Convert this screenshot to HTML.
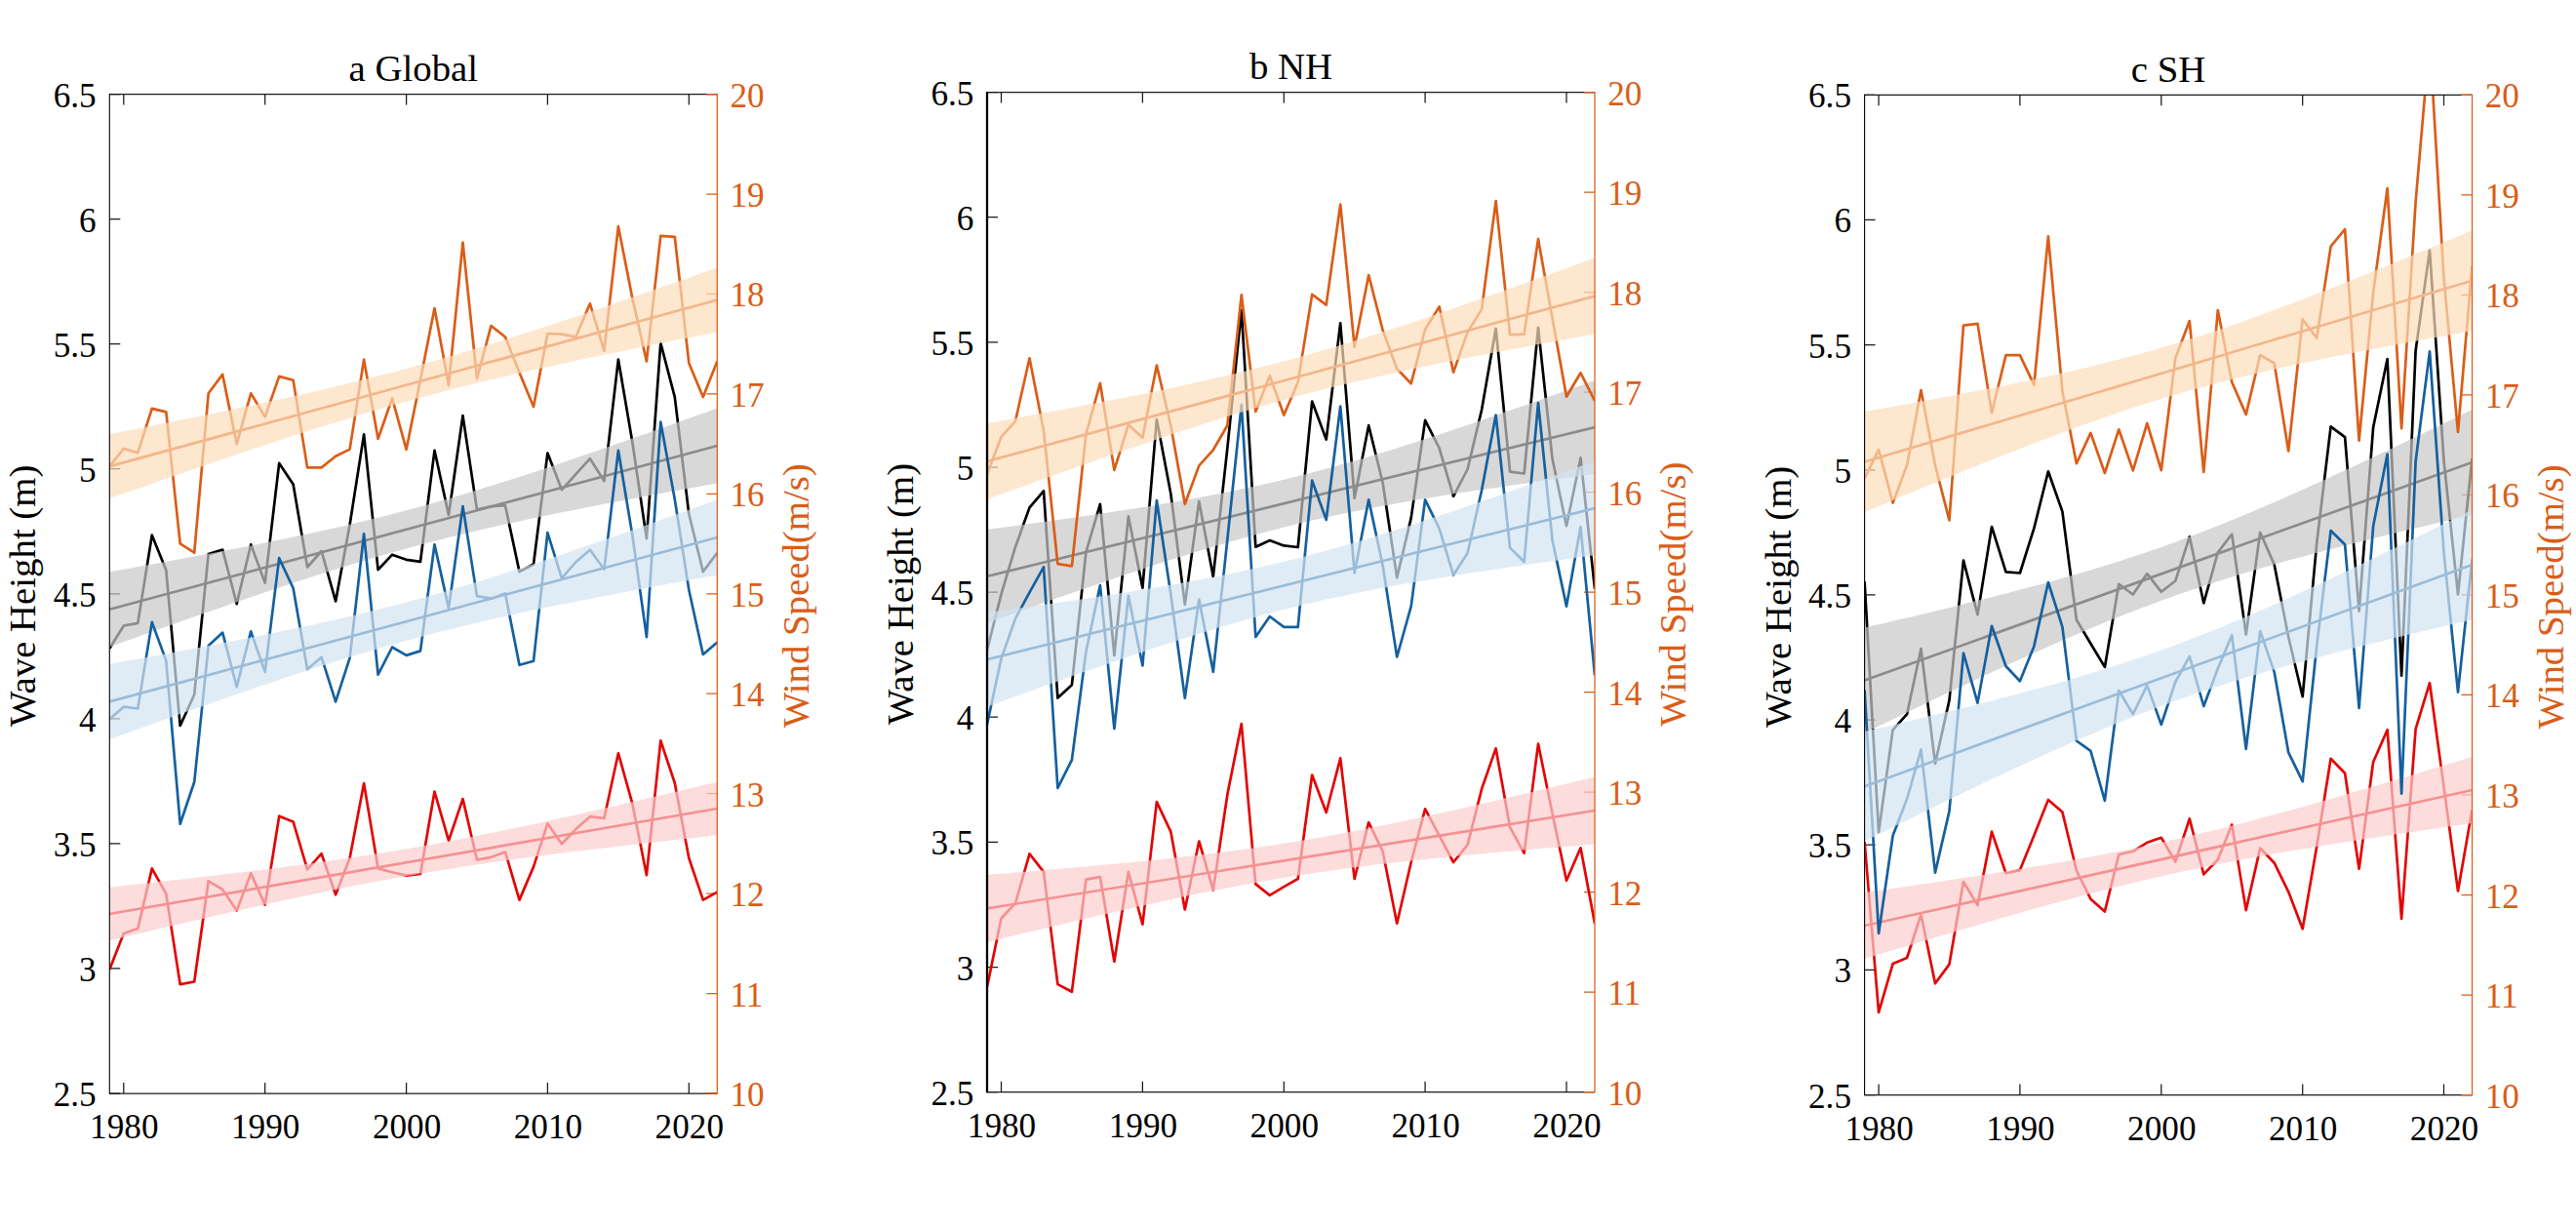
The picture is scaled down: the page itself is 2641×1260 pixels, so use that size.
<!DOCTYPE html>
<html><head><meta charset="utf-8"><title>Wave Height and Wind Speed trends</title>
<style>html,body{margin:0;padding:0;background:#fff}svg{display:block}text{font-family:"Liberation Serif","Times New Roman",serif}</style></head>
<body>
<svg width="2641" height="1260" viewBox="0 0 2641 1260">
<rect width="2641" height="1260" fill="#fff"/>
<g id="panel0">
<clipPath id="clip0"><rect x="112.3" y="96.5" width="623.0" height="1024.5"/></clipPath>
<path d="M126.8 1121.0V1110.0M126.8 96.5V107.5M271.7 1121.0V1110.0M271.7 96.5V107.5M416.6 1121.0V1110.0M416.6 96.5V107.5M561.4 1121.0V1110.0M561.4 96.5V107.5M706.3 1121.0V1110.0M706.3 96.5V107.5M112.3 1121.0H123.3M112.3 992.9H123.3M112.3 864.9H123.3M112.3 736.8H123.3M112.3 608.8H123.3M112.3 480.7H123.3M112.3 352.6H123.3M112.3 224.6H123.3M112.3 96.5H123.3" stroke="#1a1a1a" stroke-width="1.25" fill="none"/>
<path d="M735.3 1121.0H724.3M735.3 1018.5H724.3M735.3 916.1H724.3M735.3 813.6H724.3M735.3 711.2H724.3M735.3 608.8H724.3M735.3 506.3H724.3M735.3 403.9H724.3M735.3 301.4H724.3M735.3 199.0H724.3M735.3 96.5H724.3" stroke="#DA5D17" stroke-width="1.25" fill="none"/>
<g clip-path="url(#clip0)" fill="none" stroke-linejoin="round" stroke-linecap="butt">
<polyline points="112.3,664.7 126.8,641.5 141.3,638.8 155.8,548.7 170.3,584.5 184.7,744.0 199.2,712.2 213.7,568.1 228.2,563.6 242.7,619.1 257.2,558.2 271.7,597.6 286.2,474.9 300.6,496.4 315.1,581.5 329.6,565.0 344.1,616.4 358.6,538.0 373.1,445.4 387.6,584.2 402.1,568.7 416.6,573.8 431.0,575.8 445.5,461.8 460.0,528.0 474.5,426.2 489.0,522.6 503.5,519.1 518.0,518.2 532.5,586.1 547.0,578.5 561.4,464.5 575.9,502.1 590.4,486.1 604.9,470.2 619.4,493.1 633.9,368.6 648.4,453.7 662.9,552.2 677.3,351.6 691.8,407.2 706.3,527.0 720.8,586.1 735.3,566.8" stroke="#000000" stroke-width="2.7"/>
<line x1="112.3" y1="624.8" x2="735.3" y2="457.0" stroke="#000000" stroke-width="2.7"/>
<polygon points="112.3,586.3 119.5,585.0 126.8,583.7 134.0,582.4 141.3,581.1 148.5,579.8 155.8,578.5 163.0,577.2 170.3,575.9 177.5,574.5 184.7,573.2 192.0,571.8 199.2,570.5 206.5,569.1 213.7,567.8 221.0,566.4 228.2,565.0 235.5,563.6 242.7,562.2 249.9,560.8 257.2,559.4 264.4,557.9 271.7,556.5 278.9,555.0 286.2,553.5 293.4,552.0 300.6,550.5 307.9,549.0 315.1,547.4 322.4,545.9 329.6,544.3 336.9,542.7 344.1,541.0 351.4,539.4 358.6,537.7 365.8,536.0 373.1,534.3 380.3,532.5 387.6,530.7 394.8,528.9 402.1,527.0 409.3,525.2 416.6,523.3 423.8,521.3 431.0,519.4 438.3,517.4 445.5,515.3 452.8,513.3 460.0,511.2 467.3,509.1 474.5,506.9 481.8,504.8 489.0,502.6 496.2,500.3 503.5,498.1 510.7,495.8 518.0,493.5 525.2,491.2 532.5,488.9 539.7,486.5 547.0,484.2 554.2,481.8 561.4,479.4 568.7,477.0 575.9,474.5 583.2,472.1 590.4,469.6 597.7,467.1 604.9,464.6 612.1,462.2 619.4,459.6 626.6,457.1 633.9,454.6 641.1,452.1 648.4,449.5 655.6,447.0 662.9,444.4 670.1,441.8 677.3,439.3 684.6,436.7 691.8,434.1 699.1,431.5 706.3,428.9 713.6,426.3 720.8,423.7 728.1,421.1 735.3,418.5 735.3,495.5 728.1,496.8 720.8,498.1 713.6,499.4 706.3,500.7 699.1,502.0 691.8,503.3 684.6,504.6 677.3,505.9 670.1,507.3 662.9,508.6 655.6,510.0 648.4,511.3 641.1,512.7 633.9,514.0 626.6,515.4 619.4,516.8 612.1,518.2 604.9,519.6 597.7,521.0 590.4,522.4 583.2,523.9 575.9,525.3 568.7,526.8 561.4,528.3 554.2,529.8 547.0,531.3 539.7,532.8 532.5,534.4 525.2,535.9 518.0,537.5 510.7,539.1 503.5,540.8 496.2,542.4 489.0,544.1 481.8,545.8 474.5,547.5 467.3,549.3 460.0,551.1 452.8,552.9 445.5,554.8 438.3,556.6 431.0,558.5 423.8,560.5 416.6,562.4 409.3,564.4 402.1,566.5 394.8,568.5 387.6,570.6 380.3,572.7 373.1,574.9 365.8,577.0 358.6,579.2 351.4,581.5 344.1,583.7 336.9,586.0 329.6,588.3 322.4,590.6 315.1,592.9 307.9,595.3 300.6,597.6 293.4,600.0 286.2,602.4 278.9,604.8 271.7,607.3 264.4,609.7 257.2,612.2 249.9,614.7 242.7,617.2 235.5,619.6 228.2,622.2 221.0,624.7 213.7,627.2 206.5,629.7 199.2,632.3 192.0,634.8 184.7,637.4 177.5,640.0 170.3,642.5 163.0,645.1 155.8,647.7 148.5,650.3 141.3,652.9 134.0,655.5 126.8,658.1 119.5,660.7 112.3,663.3" fill="#C8C8C8" fill-opacity="0.7" stroke="none"/>
<polyline points="112.3,994.0 126.8,957.0 141.3,952.0 155.8,890.4 170.3,916.4 184.7,1009.2 199.2,1006.5 213.7,903.3 228.2,911.9 242.7,933.4 257.2,895.4 271.7,927.6 286.2,836.7 300.6,842.4 315.1,891.3 329.6,875.2 344.1,917.3 358.6,879.7 373.1,803.0 387.6,890.4 402.1,894.3 416.6,897.6 431.0,896.0 445.5,811.6 460.0,861.8 474.5,819.1 489.0,881.5 503.5,878.8 518.0,873.4 532.5,922.6 547.0,888.6 561.4,844.2 575.9,865.3 590.4,850.1 604.9,837.2 619.4,839.0 633.9,772.2 648.4,824.2 662.9,897.2 677.3,759.3 691.8,802.7 706.3,879.7 720.8,922.6 735.3,914.6" stroke="#E20606" stroke-width="2.7"/>
<line x1="112.3" y1="937.0" x2="735.3" y2="829.0" stroke="#E20606" stroke-width="2.7"/>
<polygon points="112.3,909.7 119.5,908.9 126.8,908.1 134.0,907.3 141.3,906.5 148.5,905.7 155.8,904.9 163.0,904.1 170.3,903.3 177.5,902.5 184.7,901.7 192.0,900.9 199.2,900.0 206.5,899.2 213.7,898.3 221.0,897.5 228.2,896.6 235.5,895.8 242.7,894.9 249.9,894.0 257.2,893.2 264.4,892.3 271.7,891.4 278.9,890.4 286.2,889.5 293.4,888.6 300.6,887.6 307.9,886.7 315.1,885.7 322.4,884.7 329.6,883.7 336.9,882.7 344.1,881.7 351.4,880.6 358.6,879.6 365.8,878.5 373.1,877.4 380.3,876.3 387.6,875.1 394.8,874.0 402.1,872.8 409.3,871.6 416.6,870.4 423.8,869.1 431.0,867.9 438.3,866.6 445.5,865.3 452.8,863.9 460.0,862.6 467.3,861.2 474.5,859.8 481.8,858.4 489.0,857.0 496.2,855.5 503.5,854.1 510.7,852.6 518.0,851.1 525.2,849.6 532.5,848.0 539.7,846.5 547.0,844.9 554.2,843.4 561.4,841.8 568.7,840.2 575.9,838.6 583.2,837.0 590.4,835.4 597.7,833.8 604.9,832.1 612.1,830.5 619.4,828.8 626.6,827.2 633.9,825.5 641.1,823.8 648.4,822.2 655.6,820.5 662.9,818.8 670.1,817.1 677.3,815.4 684.6,813.7 691.8,812.0 699.1,810.3 706.3,808.6 713.6,806.9 720.8,805.1 728.1,803.4 735.3,801.7 735.3,856.3 728.1,857.1 720.8,857.9 713.6,858.7 706.3,859.5 699.1,860.3 691.8,861.1 684.6,861.9 677.3,862.7 670.1,863.5 662.9,864.3 655.6,865.1 648.4,866.0 641.1,866.8 633.9,867.7 626.6,868.5 619.4,869.4 612.1,870.2 604.9,871.1 597.7,872.0 590.4,872.8 583.2,873.7 575.9,874.6 568.7,875.6 561.4,876.5 554.2,877.4 547.0,878.4 539.7,879.3 532.5,880.3 525.2,881.3 518.0,882.3 510.7,883.3 503.5,884.3 496.2,885.4 489.0,886.4 481.8,887.5 474.5,888.6 467.3,889.7 460.0,890.9 452.8,892.0 445.5,893.2 438.3,894.4 431.0,895.6 423.8,896.9 416.6,898.1 409.3,899.4 402.1,900.7 394.8,902.1 387.6,903.4 380.3,904.8 373.1,906.2 365.8,907.6 358.6,909.0 351.4,910.5 344.1,911.9 336.9,913.4 329.6,914.9 322.4,916.4 315.1,918.0 307.9,919.5 300.6,921.1 293.4,922.6 286.2,924.2 278.9,925.8 271.7,927.4 264.4,929.0 257.2,930.6 249.9,932.2 242.7,933.9 235.5,935.5 228.2,937.2 221.0,938.8 213.7,940.5 206.5,942.2 199.2,943.8 192.0,945.5 184.7,947.2 177.5,948.9 170.3,950.6 163.0,952.3 155.8,954.0 148.5,955.7 141.3,957.4 134.0,959.1 126.8,960.9 119.5,962.6 112.3,964.3" fill="#FCCDCD" fill-opacity="0.7" stroke="none"/>
<polyline points="112.3,737.3 126.8,724.7 141.3,726.5 155.8,637.9 170.3,677.3 184.7,844.7 199.2,801.8 213.7,662.1 228.2,648.6 242.7,704.1 257.2,647.4 271.7,688.9 286.2,572.2 300.6,603.0 315.1,686.2 329.6,673.7 344.1,719.4 358.6,674.6 373.1,547.4 387.6,691.6 402.1,663.5 416.6,671.9 431.0,667.4 445.5,558.3 460.0,623.6 474.5,519.1 489.0,611.1 503.5,613.7 518.0,608.4 532.5,681.8 547.0,677.8 561.4,546.2 575.9,592.8 590.4,576.2 604.9,563.8 619.4,583.8 633.9,461.8 648.4,549.0 662.9,653.1 677.3,432.5 691.8,512.0 706.3,604.8 720.8,671.0 735.3,658.5" stroke="#15609F" stroke-width="2.7"/>
<line x1="112.3" y1="719.4" x2="735.3" y2="551.0" stroke="#15609F" stroke-width="2.7"/>
<polygon points="112.3,680.7 119.5,679.4 126.8,678.1 134.0,676.8 141.3,675.5 148.5,674.2 155.8,672.9 163.0,671.6 170.3,670.2 177.5,668.9 184.7,667.6 192.0,666.2 199.2,664.8 206.5,663.5 213.7,662.1 221.0,660.7 228.2,659.3 235.5,657.9 242.7,656.5 249.9,655.1 257.2,653.7 264.4,652.2 271.7,650.8 278.9,649.3 286.2,647.8 293.4,646.3 300.6,644.8 307.9,643.3 315.1,641.7 322.4,640.1 329.6,638.5 336.9,636.9 344.1,635.3 351.4,633.6 358.6,631.9 365.8,630.2 373.1,628.5 380.3,626.7 387.6,624.9 394.8,623.1 402.1,621.3 409.3,619.4 416.6,617.5 423.8,615.5 431.0,613.5 438.3,611.5 445.5,609.5 452.8,607.4 460.0,605.4 467.3,603.2 474.5,601.1 481.8,598.9 489.0,596.7 496.2,594.5 503.5,592.2 510.7,589.9 518.0,587.6 525.2,585.3 532.5,583.0 539.7,580.6 547.0,578.2 554.2,575.8 561.4,573.4 568.7,571.0 575.9,568.5 583.2,566.1 590.4,563.6 597.7,561.1 604.9,558.6 612.1,556.1 619.4,553.6 626.6,551.1 633.9,548.5 641.1,546.0 648.4,543.4 655.6,540.9 662.9,538.3 670.1,535.7 677.3,533.2 684.6,530.6 691.8,528.0 699.1,525.4 706.3,522.8 713.6,520.2 720.8,517.5 728.1,514.9 735.3,512.3 735.3,589.7 728.1,591.0 720.8,592.3 713.6,593.6 706.3,594.9 699.1,596.2 691.8,597.5 684.6,598.8 677.3,600.2 670.1,601.5 662.9,602.8 655.6,604.2 648.4,605.6 641.1,606.9 633.9,608.3 626.6,609.7 619.4,611.1 612.1,612.5 604.9,613.9 597.7,615.3 590.4,616.7 583.2,618.2 575.9,619.6 568.7,621.1 561.4,622.6 554.2,624.1 547.0,625.6 539.7,627.1 532.5,628.7 525.2,630.3 518.0,631.9 510.7,633.5 503.5,635.1 496.2,636.8 489.0,638.5 481.8,640.2 474.5,641.9 467.3,643.7 460.0,645.5 452.8,647.3 445.5,649.1 438.3,651.0 431.0,652.9 423.8,654.9 416.6,656.9 409.3,658.9 402.1,660.9 394.8,663.0 387.6,665.0 380.3,667.2 373.1,669.3 365.8,671.5 358.6,673.7 351.4,675.9 344.1,678.2 336.9,680.5 329.6,682.8 322.4,685.1 315.1,687.4 307.9,689.8 300.6,692.2 293.4,694.6 286.2,697.0 278.9,699.4 271.7,701.9 264.4,704.3 257.2,706.8 249.9,709.3 242.7,711.8 235.5,714.3 228.2,716.8 221.0,719.3 213.7,721.9 206.5,724.4 199.2,727.0 192.0,729.5 184.7,732.1 177.5,734.7 170.3,737.2 163.0,739.8 155.8,742.4 148.5,745.0 141.3,747.6 134.0,750.2 126.8,752.9 119.5,755.5 112.3,758.1" fill="#D3E4F1" fill-opacity="0.7" stroke="none"/>
<polyline points="112.3,478.1 126.8,460.0 141.3,464.2 155.8,418.9 170.3,422.4 184.7,557.3 199.2,566.7 213.7,403.3 228.2,383.9 242.7,455.2 257.2,403.3 271.7,427.4 286.2,385.9 300.6,389.8 315.1,479.4 329.6,479.4 344.1,467.7 358.6,460.6 373.1,368.7 387.6,450.0 402.1,408.3 416.6,460.8 431.0,389.5 445.5,316.0 460.0,395.0 474.5,248.6 489.0,388.0 503.5,334.0 518.0,345.5 532.5,382.0 547.0,417.0 561.4,342.0 575.9,342.6 590.4,345.3 604.9,311.3 619.4,359.7 633.9,232.2 648.4,305.9 662.9,370.4 677.3,241.8 691.8,242.9 706.3,372.2 720.8,407.1 735.3,370.4" stroke="#DA5D17" stroke-width="2.7"/>
<line x1="112.3" y1="478.1" x2="735.3" y2="307.5" stroke="#DA5D17" stroke-width="2.7"/>
<polygon points="112.3,445.1 119.5,443.7 126.8,442.3 134.0,440.8 141.3,439.4 148.5,438.0 155.8,436.5 163.0,435.1 170.3,433.7 177.5,432.2 184.7,430.7 192.0,429.3 199.2,427.8 206.5,426.3 213.7,424.9 221.0,423.4 228.2,421.9 235.5,420.4 242.7,418.8 249.9,417.3 257.2,415.8 264.4,414.2 271.7,412.7 278.9,411.1 286.2,409.5 293.4,407.9 300.6,406.3 307.9,404.7 315.1,403.1 322.4,401.4 329.6,399.7 336.9,398.0 344.1,396.3 351.4,394.6 358.6,392.8 365.8,391.1 373.1,389.3 380.3,387.5 387.6,385.6 394.8,383.7 402.1,381.9 409.3,379.9 416.6,378.0 423.8,376.0 431.0,374.0 438.3,372.0 445.5,370.0 452.8,367.9 460.0,365.8 467.3,363.7 474.5,361.5 481.8,359.3 489.0,357.1 496.2,354.9 503.5,352.7 510.7,350.4 518.0,348.2 525.2,345.9 532.5,343.6 539.7,341.2 547.0,338.9 554.2,336.5 561.4,334.2 568.7,331.8 575.9,329.4 583.2,327.0 590.4,324.5 597.7,322.1 604.9,319.7 612.1,317.2 619.4,314.7 626.6,312.3 633.9,309.8 641.1,307.3 648.4,304.8 655.6,302.3 662.9,299.8 670.1,297.3 677.3,294.8 684.6,292.3 691.8,289.7 699.1,287.2 706.3,284.7 713.6,282.1 720.8,279.6 728.1,277.1 735.3,274.5 735.3,340.5 728.1,341.9 720.8,343.3 713.6,344.8 706.3,346.2 699.1,347.6 691.8,349.1 684.6,350.5 677.3,351.9 670.1,353.4 662.9,354.9 655.6,356.3 648.4,357.8 641.1,359.3 633.9,360.7 626.6,362.2 619.4,363.7 612.1,365.2 604.9,366.8 597.7,368.3 590.4,369.8 583.2,371.4 575.9,372.9 568.7,374.5 561.4,376.1 554.2,377.7 547.0,379.3 539.7,380.9 532.5,382.5 525.2,384.2 518.0,385.9 510.7,387.6 503.5,389.3 496.2,391.0 489.0,392.8 481.8,394.5 474.5,396.3 467.3,398.1 460.0,400.0 452.8,401.9 445.5,403.7 438.3,405.7 431.0,407.6 423.8,409.6 416.6,411.6 409.3,413.6 402.1,415.6 394.8,417.7 387.6,419.8 380.3,421.9 373.1,424.1 365.8,426.3 358.6,428.5 351.4,430.7 344.1,432.9 336.9,435.2 329.6,437.4 322.4,439.7 315.1,442.0 307.9,444.4 300.6,446.7 293.4,449.1 286.2,451.4 278.9,453.8 271.7,456.2 264.4,458.6 257.2,461.1 249.9,463.5 242.7,465.9 235.5,468.4 228.2,470.9 221.0,473.3 213.7,475.8 206.5,478.3 199.2,480.8 192.0,483.3 184.7,485.8 177.5,488.3 170.3,490.8 163.0,493.3 155.8,495.9 148.5,498.4 141.3,500.9 134.0,503.5 126.8,506.0 119.5,508.5 112.3,511.1" fill="#FCDDBA" fill-opacity="0.7" stroke="none"/>
</g>
<path d="M112.3 96.5H735.3M112.3 1121.0H735.3" stroke="#1a1a1a" stroke-width="1.25" fill="none"/>
<path d="M112.3 96.0V1121.5" stroke="#000" stroke-width="1.1" fill="none"/>
<path d="M724.3 96.5H735.3V1121.0H724.3" stroke="#DA5D17" stroke-width="1.25" fill="none"/>
<g font-size="35.2" fill="#000">
<text x="98.7" y="1134.0" text-anchor="end">2.5</text>
<text x="98.7" y="1005.9" text-anchor="end">3</text>
<text x="98.7" y="877.9" text-anchor="end">3.5</text>
<text x="98.7" y="749.8" text-anchor="end">4</text>
<text x="98.7" y="621.8" text-anchor="end">4.5</text>
<text x="98.7" y="493.7" text-anchor="end">5</text>
<text x="98.7" y="365.6" text-anchor="end">5.5</text>
<text x="98.7" y="237.6" text-anchor="end">6</text>
<text x="98.7" y="109.5" text-anchor="end">6.5</text>
<text x="127.3" y="1167.1" text-anchor="middle">1980</text>
<text x="272.2" y="1167.1" text-anchor="middle">1990</text>
<text x="417.1" y="1167.1" text-anchor="middle">2000</text>
<text x="561.9" y="1167.1" text-anchor="middle">2010</text>
<text x="706.8" y="1167.1" text-anchor="middle">2020</text>
</g>
<g font-size="35.2" fill="#DA5D17">
<text x="748.5" y="1134.0">10</text>
<text x="748.5" y="1031.5">11</text>
<text x="748.5" y="929.1">12</text>
<text x="748.5" y="826.6">13</text>
<text x="748.5" y="724.2">14</text>
<text x="748.5" y="621.8">15</text>
<text x="748.5" y="519.3">16</text>
<text x="748.5" y="416.9">17</text>
<text x="748.5" y="314.4">18</text>
<text x="748.5" y="212.0">19</text>
<text x="748.5" y="109.5">20</text>
</g>
<text font-size="38.8" x="423.8" y="83.0" text-anchor="middle" fill="#000">a Global</text>
<text font-size="38.8" transform="translate(36.3 610.8) rotate(-90)" text-anchor="middle" fill="#000">Wave Height (m)</text>
<text font-size="38.8" transform="translate(828.5 610.8) rotate(-90)" text-anchor="middle" fill="#DA5D17">Wind Speed(m/s)</text>
</g>
<g id="panel1">
<clipPath id="clip1"><rect x="1012.0" y="94.5" width="623.0" height="1025.2"/></clipPath>
<path d="M1026.5 1119.7V1108.7M1026.5 94.5V105.5M1171.4 1119.7V1108.7M1171.4 94.5V105.5M1316.3 1119.7V1108.7M1316.3 94.5V105.5M1461.1 1119.7V1108.7M1461.1 94.5V105.5M1606.0 1119.7V1108.7M1606.0 94.5V105.5M1012.0 1119.7H1023.0M1012.0 991.6H1023.0M1012.0 863.4H1023.0M1012.0 735.2H1023.0M1012.0 607.1H1023.0M1012.0 479.0H1023.0M1012.0 350.8H1023.0M1012.0 222.6H1023.0M1012.0 94.5H1023.0" stroke="#1a1a1a" stroke-width="1.25" fill="none"/>
<path d="M1635.0 1119.7H1624.0M1635.0 1017.2H1624.0M1635.0 914.7H1624.0M1635.0 812.1H1624.0M1635.0 709.6H1624.0M1635.0 607.1H1624.0M1635.0 504.6H1624.0M1635.0 402.1H1624.0M1635.0 299.5H1624.0M1635.0 197.0H1624.0M1635.0 94.5H1624.0" stroke="#DA5D17" stroke-width="1.25" fill="none"/>
<g clip-path="url(#clip1)" fill="none" stroke-linejoin="round" stroke-linecap="butt">
<polyline points="1012.0,666.4 1026.5,609.1 1041.0,560.7 1055.5,520.4 1070.0,503.4 1084.4,715.6 1098.9,702.2 1113.4,566.1 1127.9,516.8 1142.4,671.8 1156.9,529.4 1171.4,602.8 1185.9,430.0 1200.3,506.0 1214.8,619.8 1229.3,514.1 1243.8,591.2 1258.3,460.0 1272.8,318.0 1287.3,560.7 1301.8,554.0 1316.3,559.4 1330.7,561.0 1345.2,411.5 1359.7,450.6 1374.2,331.4 1388.7,510.6 1403.2,436.2 1417.7,495.3 1432.2,592.1 1446.7,531.1 1461.1,430.9 1475.6,459.5 1490.1,508.8 1504.6,481.0 1519.1,420.1 1533.6,336.8 1548.1,483.7 1562.6,485.5 1577.0,335.9 1591.5,470.3 1606.0,539.2 1620.5,469.4 1635.0,603.7" stroke="#000000" stroke-width="2.7"/>
<line x1="1012.0" y1="590.8" x2="1635.0" y2="438.0" stroke="#000000" stroke-width="2.7"/>
<polygon points="1012.0,542.8 1019.2,541.9 1026.5,540.9 1033.7,539.9 1041.0,539.0 1048.2,538.0 1055.5,537.0 1062.7,536.0 1070.0,535.0 1077.2,534.0 1084.4,533.0 1091.7,532.0 1098.9,531.0 1106.2,529.9 1113.4,528.9 1120.7,527.8 1127.9,526.7 1135.2,525.7 1142.4,524.6 1149.6,523.5 1156.9,522.3 1164.1,521.2 1171.4,520.0 1178.6,518.9 1185.9,517.7 1193.1,516.5 1200.3,515.2 1207.6,514.0 1214.8,512.7 1222.1,511.4 1229.3,510.1 1236.6,508.7 1243.8,507.3 1251.1,505.9 1258.3,504.5 1265.5,503.0 1272.8,501.5 1280.0,500.0 1287.3,498.4 1294.5,496.8 1301.8,495.2 1309.0,493.5 1316.3,491.7 1323.5,490.0 1330.7,488.2 1338.0,486.4 1345.2,484.5 1352.5,482.6 1359.7,480.6 1367.0,478.7 1374.2,476.6 1381.5,474.6 1388.7,472.5 1395.9,470.4 1403.2,468.3 1410.4,466.1 1417.7,463.9 1424.9,461.7 1432.2,459.4 1439.4,457.1 1446.7,454.8 1453.9,452.5 1461.1,450.2 1468.4,447.8 1475.6,445.4 1482.9,443.0 1490.1,440.6 1497.4,438.2 1504.6,435.7 1511.8,433.3 1519.1,430.8 1526.3,428.3 1533.6,425.8 1540.8,423.3 1548.1,420.8 1555.3,418.3 1562.6,415.7 1569.8,413.2 1577.0,410.7 1584.3,408.1 1591.5,405.5 1598.8,403.0 1606.0,400.4 1613.3,397.8 1620.5,395.2 1627.8,392.6 1635.0,390.0 1635.0,486.0 1627.8,486.9 1620.5,487.9 1613.3,488.9 1606.0,489.8 1598.8,490.8 1591.5,491.8 1584.3,492.8 1577.0,493.8 1569.8,494.8 1562.6,495.8 1555.3,496.8 1548.1,497.8 1540.8,498.9 1533.6,499.9 1526.3,501.0 1519.1,502.1 1511.8,503.1 1504.6,504.2 1497.4,505.3 1490.1,506.5 1482.9,507.6 1475.6,508.8 1468.4,509.9 1461.1,511.1 1453.9,512.3 1446.7,513.6 1439.4,514.8 1432.2,516.1 1424.9,517.4 1417.7,518.7 1410.4,520.1 1403.2,521.5 1395.9,522.9 1388.7,524.3 1381.5,525.8 1374.2,527.3 1367.0,528.8 1359.7,530.4 1352.5,532.0 1345.2,533.6 1338.0,535.3 1330.7,537.1 1323.5,538.8 1316.3,540.6 1309.0,542.4 1301.8,544.3 1294.5,546.2 1287.3,548.2 1280.0,550.1 1272.8,552.2 1265.5,554.2 1258.3,556.3 1251.1,558.4 1243.8,560.5 1236.6,562.7 1229.3,564.9 1222.1,567.1 1214.8,569.4 1207.6,571.7 1200.3,574.0 1193.1,576.3 1185.9,578.6 1178.6,581.0 1171.4,583.4 1164.1,585.8 1156.9,588.2 1149.6,590.6 1142.4,593.1 1135.2,595.5 1127.9,598.0 1120.7,600.5 1113.4,603.0 1106.2,605.5 1098.9,608.0 1091.7,610.5 1084.4,613.1 1077.2,615.6 1070.0,618.1 1062.7,620.7 1055.5,623.3 1048.2,625.8 1041.0,628.4 1033.7,631.0 1026.5,633.6 1019.2,636.2 1012.0,638.8" fill="#C8C8C8" fill-opacity="0.7" stroke="none"/>
<polyline points="1012.0,1011.8 1026.5,941.5 1041.0,926.0 1055.5,875.4 1070.0,893.8 1084.4,1009.1 1098.9,1016.8 1113.4,901.7 1127.9,899.1 1142.4,985.8 1156.9,893.8 1171.4,947.6 1185.9,822.2 1200.3,852.6 1214.8,932.4 1229.3,862.5 1243.8,912.5 1258.3,815.0 1272.8,742.0 1287.3,906.4 1301.8,917.9 1316.3,909.2 1330.7,901.0 1345.2,794.5 1359.7,833.0 1374.2,777.4 1388.7,901.0 1403.2,843.2 1417.7,873.2 1432.2,946.7 1446.7,884.0 1461.1,829.4 1475.6,856.6 1490.1,884.0 1504.6,866.1 1519.1,808.8 1533.6,767.3 1548.1,848.2 1562.6,874.7 1577.0,762.6 1591.5,833.8 1606.0,902.8 1620.5,869.3 1635.0,946.7" stroke="#E20606" stroke-width="2.7"/>
<line x1="1012.0" y1="931.4" x2="1635.0" y2="831.0" stroke="#E20606" stroke-width="2.7"/>
<polygon points="1012.0,896.9 1019.2,896.3 1026.5,895.7 1033.7,895.2 1041.0,894.6 1048.2,894.0 1055.5,893.4 1062.7,892.8 1070.0,892.2 1077.2,891.6 1084.4,891.0 1091.7,890.3 1098.9,889.7 1106.2,889.1 1113.4,888.4 1120.7,887.8 1127.9,887.1 1135.2,886.4 1142.4,885.8 1149.6,885.1 1156.9,884.4 1164.1,883.7 1171.4,883.0 1178.6,882.2 1185.9,881.5 1193.1,880.7 1200.3,879.9 1207.6,879.1 1214.8,878.3 1222.1,877.5 1229.3,876.7 1236.6,875.8 1243.8,874.9 1251.1,874.0 1258.3,873.1 1265.5,872.1 1272.8,871.2 1280.0,870.2 1287.3,869.2 1294.5,868.1 1301.8,867.0 1309.0,865.9 1316.3,864.8 1323.5,863.7 1330.7,862.5 1338.0,861.3 1345.2,860.0 1352.5,858.8 1359.7,857.5 1367.0,856.2 1374.2,854.8 1381.5,853.5 1388.7,852.1 1395.9,850.7 1403.2,849.2 1410.4,847.8 1417.7,846.3 1424.9,844.8 1432.2,843.3 1439.4,841.8 1446.7,840.2 1453.9,838.7 1461.1,837.1 1468.4,835.5 1475.6,833.9 1482.9,832.3 1490.1,830.7 1497.4,829.0 1504.6,827.4 1511.8,825.7 1519.1,824.1 1526.3,822.4 1533.6,820.7 1540.8,819.0 1548.1,817.3 1555.3,815.6 1562.6,813.9 1569.8,812.2 1577.0,810.5 1584.3,808.7 1591.5,807.0 1598.8,805.3 1606.0,803.5 1613.3,801.8 1620.5,800.0 1627.8,798.3 1635.0,796.5 1635.0,865.5 1627.8,866.1 1620.5,866.7 1613.3,867.2 1606.0,867.8 1598.8,868.4 1591.5,869.0 1584.3,869.6 1577.0,870.2 1569.8,870.8 1562.6,871.4 1555.3,872.1 1548.1,872.7 1540.8,873.3 1533.6,874.0 1526.3,874.6 1519.1,875.3 1511.8,876.0 1504.6,876.6 1497.4,877.3 1490.1,878.0 1482.9,878.7 1475.6,879.4 1468.4,880.2 1461.1,880.9 1453.9,881.7 1446.7,882.5 1439.4,883.3 1432.2,884.1 1424.9,884.9 1417.7,885.7 1410.4,886.6 1403.2,887.5 1395.9,888.4 1388.7,889.3 1381.5,890.3 1374.2,891.2 1367.0,892.2 1359.7,893.2 1352.5,894.3 1345.2,895.4 1338.0,896.5 1330.7,897.6 1323.5,898.7 1316.3,899.9 1309.0,901.1 1301.8,902.4 1294.5,903.6 1287.3,904.9 1280.0,906.2 1272.8,907.6 1265.5,908.9 1258.3,910.3 1251.1,911.7 1243.8,913.2 1236.6,914.6 1229.3,916.1 1222.1,917.6 1214.8,919.1 1207.6,920.6 1200.3,922.2 1193.1,923.7 1185.9,925.3 1178.6,926.9 1171.4,928.5 1164.1,930.1 1156.9,931.7 1149.6,933.4 1142.4,935.0 1135.2,936.7 1127.9,938.3 1120.7,940.0 1113.4,941.7 1106.2,943.4 1098.9,945.1 1091.7,946.8 1084.4,948.5 1077.2,950.2 1070.0,951.9 1062.7,953.7 1055.5,955.4 1048.2,957.1 1041.0,958.9 1033.7,960.6 1026.5,962.4 1019.2,964.1 1012.0,965.9" fill="#FCCDCD" fill-opacity="0.7" stroke="none"/>
<polyline points="1012.0,742.5 1026.5,675.3 1041.0,634.2 1055.5,607.3 1070.0,581.3 1084.4,807.9 1098.9,779.2 1113.4,668.2 1127.9,600.1 1142.4,747.0 1156.9,610.9 1171.4,682.5 1185.9,513.2 1200.3,609.0 1214.8,715.6 1229.3,614.5 1243.8,688.8 1258.3,553.6 1272.8,414.8 1287.3,653.0 1301.8,632.0 1316.3,642.8 1330.7,642.9 1345.2,492.7 1359.7,532.9 1374.2,416.6 1388.7,587.5 1403.2,512.3 1417.7,580.0 1432.2,673.5 1446.7,621.6 1461.1,512.3 1475.6,541.9 1490.1,589.6 1504.6,567.0 1519.1,502.5 1533.6,425.5 1548.1,561.6 1562.6,576.0 1577.0,413.0 1591.5,553.6 1606.0,621.6 1620.5,540.1 1635.0,692.3" stroke="#15609F" stroke-width="2.7"/>
<line x1="1012.0" y1="676.2" x2="1635.0" y2="521.0" stroke="#15609F" stroke-width="2.7"/>
<polygon points="1012.0,627.9 1019.2,626.9 1026.5,625.9 1033.7,625.0 1041.0,624.0 1048.2,623.0 1055.5,622.0 1062.7,621.0 1070.0,619.9 1077.2,618.9 1084.4,617.9 1091.7,616.8 1098.9,615.8 1106.2,614.7 1113.4,613.7 1120.7,612.6 1127.9,611.5 1135.2,610.4 1142.4,609.3 1149.6,608.1 1156.9,607.0 1164.1,605.8 1171.4,604.6 1178.6,603.4 1185.9,602.2 1193.1,601.0 1200.3,599.7 1207.6,598.4 1214.8,597.1 1222.1,595.8 1229.3,594.5 1236.6,593.1 1243.8,591.7 1251.1,590.2 1258.3,588.8 1265.5,587.3 1272.8,585.8 1280.0,584.2 1287.3,582.6 1294.5,581.0 1301.8,579.3 1309.0,577.6 1316.3,575.8 1323.5,574.0 1330.7,572.2 1338.0,570.4 1345.2,568.5 1352.5,566.5 1359.7,564.5 1367.0,562.5 1374.2,560.5 1381.5,558.4 1388.7,556.3 1395.9,554.2 1403.2,552.0 1410.4,549.8 1417.7,547.5 1424.9,545.3 1432.2,543.0 1439.4,540.7 1446.7,538.4 1453.9,536.0 1461.1,533.6 1468.4,531.2 1475.6,528.8 1482.9,526.4 1490.1,524.0 1497.4,521.5 1504.6,519.0 1511.8,516.5 1519.1,514.0 1526.3,511.5 1533.6,509.0 1540.8,506.4 1548.1,503.9 1555.3,501.3 1562.6,498.8 1569.8,496.2 1577.0,493.6 1584.3,491.0 1591.5,488.4 1598.8,485.8 1606.0,483.2 1613.3,480.6 1620.5,478.0 1627.8,475.3 1635.0,472.7 1635.0,569.3 1627.8,570.3 1620.5,571.3 1613.3,572.2 1606.0,573.2 1598.8,574.2 1591.5,575.2 1584.3,576.2 1577.0,577.3 1569.8,578.3 1562.6,579.3 1555.3,580.4 1548.1,581.4 1540.8,582.5 1533.6,583.5 1526.3,584.6 1519.1,585.7 1511.8,586.8 1504.6,587.9 1497.4,589.1 1490.1,590.2 1482.9,591.4 1475.6,592.6 1468.4,593.8 1461.1,595.0 1453.9,596.2 1446.7,597.5 1439.4,598.8 1432.2,600.1 1424.9,601.4 1417.7,602.7 1410.4,604.1 1403.2,605.5 1395.9,607.0 1388.7,608.4 1381.5,609.9 1374.2,611.4 1367.0,613.0 1359.7,614.6 1352.5,616.2 1345.2,617.9 1338.0,619.6 1330.7,621.4 1323.5,623.2 1316.3,625.0 1309.0,626.8 1301.8,628.7 1294.5,630.7 1287.3,632.7 1280.0,634.7 1272.8,636.7 1265.5,638.8 1258.3,640.9 1251.1,643.0 1243.8,645.2 1236.6,647.4 1229.3,649.7 1222.1,651.9 1214.8,654.2 1207.6,656.5 1200.3,658.8 1193.1,661.2 1185.9,663.6 1178.6,666.0 1171.4,668.4 1164.1,670.8 1156.9,673.2 1149.6,675.7 1142.4,678.2 1135.2,680.7 1127.9,683.2 1120.7,685.7 1113.4,688.2 1106.2,690.8 1098.9,693.3 1091.7,695.9 1084.4,698.4 1077.2,701.0 1070.0,703.6 1062.7,706.2 1055.5,708.8 1048.2,711.4 1041.0,714.0 1033.7,716.6 1026.5,719.2 1019.2,721.9 1012.0,724.5" fill="#D3E4F1" fill-opacity="0.7" stroke="none"/>
<polyline points="1012.0,486.0 1026.5,447.9 1041.0,431.8 1055.5,367.3 1070.0,441.6 1084.4,578.2 1098.9,580.4 1113.4,445.2 1127.9,392.8 1142.4,481.9 1156.9,435.4 1171.4,448.8 1185.9,374.6 1200.3,436.2 1214.8,516.8 1229.3,477.4 1243.8,461.3 1258.3,436.2 1272.8,302.4 1287.3,421.9 1301.8,385.3 1316.3,425.5 1330.7,391.8 1345.2,301.9 1359.7,312.6 1374.2,209.7 1388.7,355.6 1403.2,282.2 1417.7,338.6 1432.2,378.0 1446.7,393.2 1461.1,337.7 1475.6,314.4 1490.1,381.6 1504.6,340.4 1519.1,317.1 1533.6,206.1 1548.1,343.1 1562.6,342.6 1577.0,245.1 1591.5,326.1 1606.0,406.7 1620.5,382.3 1635.0,411.0" stroke="#DA5D17" stroke-width="2.7"/>
<line x1="1012.0" y1="473.0" x2="1635.0" y2="303.5" stroke="#DA5D17" stroke-width="2.7"/>
<polygon points="1012.0,434.0 1019.2,432.7 1026.5,431.4 1033.7,430.1 1041.0,428.8 1048.2,427.5 1055.5,426.1 1062.7,424.8 1070.0,423.5 1077.2,422.1 1084.4,420.8 1091.7,419.4 1098.9,418.1 1106.2,416.7 1113.4,415.3 1120.7,413.9 1127.9,412.5 1135.2,411.1 1142.4,409.7 1149.6,408.3 1156.9,406.8 1164.1,405.4 1171.4,403.9 1178.6,402.4 1185.9,400.9 1193.1,399.4 1200.3,397.9 1207.6,396.3 1214.8,394.8 1222.1,393.2 1229.3,391.6 1236.6,390.0 1243.8,388.3 1251.1,386.6 1258.3,384.9 1265.5,383.2 1272.8,381.5 1280.0,379.7 1287.3,377.9 1294.5,376.1 1301.8,374.2 1309.0,372.3 1316.3,370.4 1323.5,368.4 1330.7,366.4 1338.0,364.4 1345.2,362.4 1352.5,360.3 1359.7,358.2 1367.0,356.0 1374.2,353.9 1381.5,351.7 1388.7,349.5 1395.9,347.2 1403.2,345.0 1410.4,342.7 1417.7,340.3 1424.9,338.0 1432.2,335.7 1439.4,333.3 1446.7,330.9 1453.9,328.5 1461.1,326.0 1468.4,323.6 1475.6,321.1 1482.9,318.7 1490.1,316.2 1497.4,313.7 1504.6,311.1 1511.8,308.6 1519.1,306.1 1526.3,303.5 1533.6,301.0 1540.8,298.4 1548.1,295.9 1555.3,293.3 1562.6,290.7 1569.8,288.1 1577.0,285.5 1584.3,282.9 1591.5,280.3 1598.8,277.7 1606.0,275.0 1613.3,272.4 1620.5,269.8 1627.8,267.1 1635.0,264.5 1635.0,342.5 1627.8,343.8 1620.5,345.1 1613.3,346.4 1606.0,347.7 1598.8,349.0 1591.5,350.4 1584.3,351.7 1577.0,353.0 1569.8,354.4 1562.6,355.7 1555.3,357.1 1548.1,358.4 1540.8,359.8 1533.6,361.2 1526.3,362.6 1519.1,364.0 1511.8,365.4 1504.6,366.8 1497.4,368.2 1490.1,369.7 1482.9,371.1 1475.6,372.6 1468.4,374.1 1461.1,375.6 1453.9,377.1 1446.7,378.6 1439.4,380.2 1432.2,381.7 1424.9,383.3 1417.7,384.9 1410.4,386.5 1403.2,388.2 1395.9,389.9 1388.7,391.6 1381.5,393.3 1374.2,395.0 1367.0,396.8 1359.7,398.6 1352.5,400.4 1345.2,402.3 1338.0,404.2 1330.7,406.1 1323.5,408.1 1316.3,410.1 1309.0,412.1 1301.8,414.1 1294.5,416.2 1287.3,418.3 1280.0,420.5 1272.8,422.6 1265.5,424.8 1258.3,427.0 1251.1,429.3 1243.8,431.5 1236.6,433.8 1229.3,436.2 1222.1,438.5 1214.8,440.8 1207.6,443.2 1200.3,445.6 1193.1,448.0 1185.9,450.5 1178.6,452.9 1171.4,455.4 1164.1,457.8 1156.9,460.3 1149.6,462.8 1142.4,465.4 1135.2,467.9 1127.9,470.4 1120.7,473.0 1113.4,475.5 1106.2,478.1 1098.9,480.6 1091.7,483.2 1084.4,485.8 1077.2,488.4 1070.0,491.0 1062.7,493.6 1055.5,496.2 1048.2,498.8 1041.0,501.5 1033.7,504.1 1026.5,506.7 1019.2,509.4 1012.0,512.0" fill="#FCDDBA" fill-opacity="0.7" stroke="none"/>
</g>
<path d="M1012.0 94.5H1635.0M1012.0 1119.7H1635.0" stroke="#1a1a1a" stroke-width="1.25" fill="none"/>
<path d="M1012.0 94.0V1120.2" stroke="#000" stroke-width="2.3" fill="none"/>
<path d="M1624.0 94.5H1635.0V1119.7H1624.0" stroke="#DA5D17" stroke-width="1.25" fill="none"/>
<g font-size="35.2" fill="#000">
<text x="998.4" y="1132.7" text-anchor="end">2.5</text>
<text x="998.4" y="1004.6" text-anchor="end">3</text>
<text x="998.4" y="876.4" text-anchor="end">3.5</text>
<text x="998.4" y="748.2" text-anchor="end">4</text>
<text x="998.4" y="620.1" text-anchor="end">4.5</text>
<text x="998.4" y="492.0" text-anchor="end">5</text>
<text x="998.4" y="363.8" text-anchor="end">5.5</text>
<text x="998.4" y="235.6" text-anchor="end">6</text>
<text x="998.4" y="107.5" text-anchor="end">6.5</text>
<text x="1027.0" y="1165.8" text-anchor="middle">1980</text>
<text x="1171.9" y="1165.8" text-anchor="middle">1990</text>
<text x="1316.8" y="1165.8" text-anchor="middle">2000</text>
<text x="1461.6" y="1165.8" text-anchor="middle">2010</text>
<text x="1606.5" y="1165.8" text-anchor="middle">2020</text>
</g>
<g font-size="35.2" fill="#DA5D17">
<text x="1648.2" y="1132.7">10</text>
<text x="1648.2" y="1030.2">11</text>
<text x="1648.2" y="927.7">12</text>
<text x="1648.2" y="825.1">13</text>
<text x="1648.2" y="722.6">14</text>
<text x="1648.2" y="620.1">15</text>
<text x="1648.2" y="517.6">16</text>
<text x="1648.2" y="415.1">17</text>
<text x="1648.2" y="312.5">18</text>
<text x="1648.2" y="210.0">19</text>
<text x="1648.2" y="107.5">20</text>
</g>
<text font-size="38.8" x="1323.5" y="81.0" text-anchor="middle" fill="#000">b NH</text>
<text font-size="38.8" transform="translate(936.0 609.1) rotate(-90)" text-anchor="middle" fill="#000">Wave Height (m)</text>
<text font-size="38.8" transform="translate(1728.2 609.1) rotate(-90)" text-anchor="middle" fill="#DA5D17">Wind Speed(m/s)</text>
</g>
<g id="panel2">
<clipPath id="clip2"><rect x="1911.6" y="97.3" width="622.9" height="1025.2"/></clipPath>
<path d="M1926.1 1122.5V1111.5M1926.1 97.3V108.3M2070.9 1122.5V1111.5M2070.9 97.3V108.3M2215.8 1122.5V1111.5M2215.8 97.3V108.3M2360.7 1122.5V1111.5M2360.7 97.3V108.3M2505.5 1122.5V1111.5M2505.5 97.3V108.3M1911.6 1122.5H1922.6M1911.6 994.4H1922.6M1911.6 866.2H1922.6M1911.6 738.0H1922.6M1911.6 609.9H1922.6M1911.6 481.8H1922.6M1911.6 353.6H1922.6M1911.6 225.4H1922.6M1911.6 97.3H1922.6" stroke="#1a1a1a" stroke-width="1.25" fill="none"/>
<path d="M2534.5 1122.5H2523.5M2534.5 1020.0H2523.5M2534.5 917.5H2523.5M2534.5 814.9H2523.5M2534.5 712.4H2523.5M2534.5 609.9H2523.5M2534.5 507.4H2523.5M2534.5 404.9H2523.5M2534.5 302.3H2523.5M2534.5 199.8H2523.5M2534.5 97.3H2523.5" stroke="#DA5D17" stroke-width="1.25" fill="none"/>
<g clip-path="url(#clip2)" fill="none" stroke-linejoin="round" stroke-linecap="butt">
<polyline points="1911.6,596.1 1926.1,853.1 1940.6,748.3 1955.1,732.2 1969.5,665.0 1984.0,782.8 1998.5,717.9 2013.0,574.6 2027.5,630.1 2042.0,540.0 2056.5,586.3 2070.9,587.5 2085.4,541.4 2099.9,483.3 2114.4,524.4 2128.9,635.5 2143.4,659.7 2157.9,683.9 2172.3,598.8 2186.8,609.5 2201.3,588.1 2215.8,606.8 2230.3,595.5 2244.8,550.3 2259.3,618.3 2273.8,566.4 2288.2,547.6 2302.7,650.5 2317.2,545.8 2331.7,578.9 2346.2,653.3 2360.7,714.2 2375.2,557.0 2389.6,437.4 2404.1,448.2 2418.6,626.4 2433.1,438.3 2447.6,368.1 2462.1,692.7 2476.6,359.5 2491.0,256.5 2505.5,472.0 2520.0,609.4 2534.5,470.0" stroke="#000000" stroke-width="2.7"/>
<line x1="1911.6" y1="697.5" x2="2534.5" y2="474.0" stroke="#000000" stroke-width="2.7"/>
<polygon points="1911.6,643.5 1918.8,641.8 1926.1,640.2 1933.3,638.5 1940.6,636.8 1947.8,635.1 1955.1,633.4 1962.3,631.7 1969.5,630.0 1976.8,628.2 1984.0,626.5 1991.3,624.7 1998.5,623.0 2005.8,621.2 2013.0,619.4 2020.2,617.6 2027.5,615.8 2034.7,614.0 2042.0,612.2 2049.2,610.3 2056.5,608.5 2063.7,606.6 2070.9,604.7 2078.2,602.8 2085.4,600.8 2092.7,598.9 2099.9,596.9 2107.2,594.9 2114.4,592.8 2121.6,590.8 2128.9,588.7 2136.1,586.6 2143.4,584.4 2150.6,582.2 2157.9,580.0 2165.1,577.8 2172.3,575.5 2179.6,573.1 2186.8,570.8 2194.1,568.3 2201.3,565.9 2208.6,563.4 2215.8,560.9 2223.1,558.3 2230.3,555.7 2237.5,553.0 2244.8,550.3 2252.0,547.6 2259.3,544.8 2266.5,541.9 2273.8,539.1 2281.0,536.2 2288.2,533.2 2295.5,530.2 2302.7,527.2 2310.0,524.2 2317.2,521.1 2324.5,518.0 2331.7,514.9 2338.9,511.7 2346.2,508.5 2353.4,505.3 2360.7,502.1 2367.9,498.8 2375.2,495.5 2382.4,492.2 2389.6,488.9 2396.9,485.6 2404.1,482.2 2411.4,478.9 2418.6,475.5 2425.9,472.1 2433.1,468.7 2440.3,465.3 2447.6,461.9 2454.8,458.4 2462.1,455.0 2469.3,451.5 2476.6,448.0 2483.8,444.6 2491.0,441.1 2498.3,437.6 2505.5,434.1 2512.8,430.6 2520.0,427.1 2527.3,423.5 2534.5,420.0 2534.5,528.0 2527.3,529.7 2520.0,531.3 2512.8,533.0 2505.5,534.7 2498.3,536.4 2491.0,538.1 2483.8,539.8 2476.6,541.5 2469.3,543.3 2462.1,545.0 2454.8,546.8 2447.6,548.5 2440.3,550.3 2433.1,552.1 2425.9,553.9 2418.6,555.7 2411.4,557.5 2404.1,559.3 2396.9,561.2 2389.6,563.0 2382.4,564.9 2375.2,566.8 2367.9,568.7 2360.7,570.7 2353.4,572.6 2346.2,574.6 2338.9,576.6 2331.7,578.7 2324.5,580.7 2317.2,582.8 2310.0,584.9 2302.7,587.1 2295.5,589.3 2288.2,591.5 2281.0,593.7 2273.8,596.0 2266.5,598.4 2259.3,600.7 2252.0,603.2 2244.8,605.6 2237.5,608.1 2230.3,610.6 2223.1,613.2 2215.8,615.8 2208.6,618.5 2201.3,621.2 2194.1,623.9 2186.8,626.7 2179.6,629.6 2172.3,632.4 2165.1,635.3 2157.9,638.3 2150.6,641.3 2143.4,644.3 2136.1,647.3 2128.9,650.4 2121.6,653.5 2114.4,656.6 2107.2,659.8 2099.9,663.0 2092.7,666.2 2085.4,669.4 2078.2,672.7 2070.9,676.0 2063.7,679.3 2056.5,682.6 2049.2,685.9 2042.0,689.3 2034.7,692.6 2027.5,696.0 2020.2,699.4 2013.0,702.8 2005.8,706.2 1998.5,709.6 1991.3,713.1 1984.0,716.5 1976.8,720.0 1969.5,723.5 1962.3,726.9 1955.1,730.4 1947.8,733.9 1940.6,737.4 1933.3,740.9 1926.1,744.4 1918.8,748.0 1911.6,751.5" fill="#C8C8C8" fill-opacity="0.7" stroke="none"/>
<polyline points="1911.6,863.0 1926.1,1037.9 1940.6,988.1 1955.1,982.0 1969.5,937.5 1984.0,1008.3 1998.5,988.6 2013.0,904.0 2027.5,928.0 2042.0,852.7 2056.5,895.2 2070.9,892.1 2085.4,856.4 2099.9,820.0 2114.4,832.5 2128.9,892.5 2143.4,921.7 2157.9,934.5 2172.3,876.0 2186.8,872.8 2201.3,863.8 2215.8,858.8 2230.3,883.5 2244.8,839.3 2259.3,896.4 2273.8,881.2 2288.2,845.4 2302.7,933.1 2317.2,869.5 2331.7,884.7 2346.2,914.3 2360.7,952.2 2375.2,867.7 2389.6,777.8 2404.1,792.7 2418.6,890.7 2433.1,781.3 2447.6,748.2 2462.1,942.0 2476.6,747.3 2491.0,700.2 2505.5,806.9 2520.0,913.4 2534.5,830.3" stroke="#E20606" stroke-width="2.7"/>
<line x1="1911.6" y1="949.0" x2="2534.5" y2="810.0" stroke="#E20606" stroke-width="2.7"/>
<polygon points="1911.6,915.0 1918.8,914.0 1926.1,912.9 1933.3,911.9 1940.6,910.9 1947.8,909.8 1955.1,908.8 1962.3,907.7 1969.5,906.6 1976.8,905.6 1984.0,904.5 1991.3,903.4 1998.5,902.3 2005.8,901.2 2013.0,900.1 2020.2,899.0 2027.5,897.9 2034.7,896.8 2042.0,895.6 2049.2,894.5 2056.5,893.3 2063.7,892.2 2070.9,891.0 2078.2,889.8 2085.4,888.6 2092.7,887.4 2099.9,886.2 2107.2,884.9 2114.4,883.7 2121.6,882.4 2128.9,881.1 2136.1,879.8 2143.4,878.4 2150.6,877.1 2157.9,875.7 2165.1,874.3 2172.3,872.9 2179.6,871.4 2186.8,870.0 2194.1,868.5 2201.3,866.9 2208.6,865.4 2215.8,863.8 2223.1,862.2 2230.3,860.6 2237.5,858.9 2244.8,857.2 2252.0,855.5 2259.3,853.8 2266.5,852.0 2273.8,850.3 2281.0,848.4 2288.2,846.6 2295.5,844.8 2302.7,842.9 2310.0,841.0 2317.2,839.1 2324.5,837.1 2331.7,835.2 2338.9,833.2 2346.2,831.2 2353.4,829.2 2360.7,827.2 2367.9,825.2 2375.2,823.1 2382.4,821.1 2389.6,819.0 2396.9,816.9 2404.1,814.8 2411.4,812.7 2418.6,810.6 2425.9,808.5 2433.1,806.4 2440.3,804.3 2447.6,802.1 2454.8,800.0 2462.1,797.8 2469.3,795.7 2476.6,793.5 2483.8,791.3 2491.0,789.1 2498.3,787.0 2505.5,784.8 2512.8,782.6 2520.0,780.4 2527.3,778.2 2534.5,776.0 2534.5,844.0 2527.3,845.0 2520.0,846.1 2512.8,847.1 2505.5,848.1 2498.3,849.2 2491.0,850.2 2483.8,851.3 2476.6,852.4 2469.3,853.4 2462.1,854.5 2454.8,855.6 2447.6,856.7 2440.3,857.8 2433.1,858.9 2425.9,860.0 2418.6,861.1 2411.4,862.2 2404.1,863.4 2396.9,864.5 2389.6,865.7 2382.4,866.8 2375.2,868.0 2367.9,869.2 2360.7,870.4 2353.4,871.6 2346.2,872.8 2338.9,874.1 2331.7,875.3 2324.5,876.6 2317.2,877.9 2310.0,879.2 2302.7,880.6 2295.5,881.9 2288.2,883.3 2281.0,884.7 2273.8,886.1 2266.5,887.6 2259.3,889.0 2252.0,890.5 2244.8,892.1 2237.5,893.6 2230.3,895.2 2223.1,896.8 2215.8,898.4 2208.6,900.1 2201.3,901.8 2194.1,903.5 2186.8,905.2 2179.6,907.0 2172.3,908.7 2165.1,910.6 2157.9,912.4 2150.6,914.2 2143.4,916.1 2136.1,918.0 2128.9,919.9 2121.6,921.9 2114.4,923.8 2107.2,925.8 2099.9,927.8 2092.7,929.8 2085.4,931.8 2078.2,933.8 2070.9,935.9 2063.7,937.9 2056.5,940.0 2049.2,942.1 2042.0,944.2 2034.7,946.3 2027.5,948.4 2020.2,950.5 2013.0,952.6 2005.8,954.7 1998.5,956.9 1991.3,959.0 1984.0,961.2 1976.8,963.3 1969.5,965.5 1962.3,967.7 1955.1,969.9 1947.8,972.0 1940.6,974.2 1933.3,976.4 1926.1,978.6 1918.8,980.8 1911.6,983.0" fill="#FCCDCD" fill-opacity="0.7" stroke="none"/>
<polyline points="1911.6,707.1 1926.1,957.0 1940.6,856.7 1955.1,819.1 1969.5,768.5 1984.0,894.6 1998.5,831.6 2013.0,669.5 2027.5,720.6 2042.0,641.8 2056.5,683.0 2070.9,698.2 2085.4,662.4 2099.9,597.0 2114.4,642.7 2128.9,759.5 2143.4,769.8 2157.9,820.9 2172.3,708.0 2186.8,732.2 2201.3,702.6 2215.8,742.9 2230.3,699.0 2244.8,673.0 2259.3,724.0 2273.8,685.5 2288.2,651.2 2302.7,767.9 2317.2,647.0 2331.7,689.1 2346.2,771.4 2360.7,801.2 2375.2,662.2 2389.6,544.0 2404.1,558.3 2418.6,725.8 2433.1,539.5 2447.6,465.5 2462.1,813.7 2476.6,473.0 2491.0,360.4 2505.5,566.4 2520.0,709.7 2534.5,573.5" stroke="#15609F" stroke-width="2.7"/>
<line x1="1911.6" y1="806.2" x2="2534.5" y2="579.0" stroke="#15609F" stroke-width="2.7"/>
<polygon points="1911.6,749.9 1918.8,748.2 1926.1,746.5 1933.3,744.9 1940.6,743.2 1947.8,741.5 1955.1,739.8 1962.3,738.0 1969.5,736.3 1976.8,734.6 1984.0,732.8 1991.3,731.1 1998.5,729.3 2005.8,727.5 2013.0,725.8 2020.2,724.0 2027.5,722.1 2034.7,720.3 2042.0,718.5 2049.2,716.6 2056.5,714.7 2063.7,712.8 2070.9,710.9 2078.2,709.0 2085.4,707.0 2092.7,705.1 2099.9,703.1 2107.2,701.0 2114.4,699.0 2121.6,696.9 2128.9,694.8 2136.1,692.6 2143.4,690.5 2150.6,688.2 2157.9,686.0 2165.1,683.7 2172.3,681.4 2179.6,679.0 2186.8,676.6 2194.1,674.2 2201.3,671.7 2208.6,669.2 2215.8,666.6 2223.1,664.0 2230.3,661.3 2237.5,658.6 2244.8,655.8 2252.0,653.1 2259.3,650.2 2266.5,647.3 2273.8,644.4 2281.0,641.4 2288.2,638.4 2295.5,635.4 2302.7,632.3 2310.0,629.2 2317.2,626.1 2324.5,622.9 2331.7,619.7 2338.9,616.5 2346.2,613.2 2353.4,610.0 2360.7,606.6 2367.9,603.3 2375.2,600.0 2382.4,596.6 2389.6,593.2 2396.9,589.8 2404.1,586.4 2411.4,582.9 2418.6,579.5 2425.9,576.0 2433.1,572.5 2440.3,569.0 2447.6,565.5 2454.8,562.0 2462.1,558.5 2469.3,554.9 2476.6,551.4 2483.8,547.8 2491.0,544.3 2498.3,540.7 2505.5,537.1 2512.8,533.5 2520.0,529.9 2527.3,526.3 2534.5,522.7 2534.5,635.3 2527.3,637.0 2520.0,638.7 2512.8,640.3 2505.5,642.0 2498.3,643.7 2491.0,645.4 2483.8,647.2 2476.6,648.9 2469.3,650.6 2462.1,652.4 2454.8,654.1 2447.6,655.9 2440.3,657.7 2433.1,659.4 2425.9,661.2 2418.6,663.1 2411.4,664.9 2404.1,666.7 2396.9,668.6 2389.6,670.5 2382.4,672.4 2375.2,674.3 2367.9,676.2 2360.7,678.2 2353.4,680.1 2346.2,682.1 2338.9,684.2 2331.7,686.2 2324.5,688.3 2317.2,690.4 2310.0,692.6 2302.7,694.7 2295.5,697.0 2288.2,699.2 2281.0,701.5 2273.8,703.8 2266.5,706.2 2259.3,708.6 2252.0,711.0 2244.8,713.5 2237.5,716.0 2230.3,718.6 2223.1,721.2 2215.8,723.9 2208.6,726.6 2201.3,729.4 2194.1,732.1 2186.8,735.0 2179.6,737.9 2172.3,740.8 2165.1,743.8 2157.9,746.8 2150.6,749.8 2143.4,752.9 2136.1,756.0 2128.9,759.1 2121.6,762.3 2114.4,765.5 2107.2,768.7 2099.9,772.0 2092.7,775.2 2085.4,778.6 2078.2,781.9 2070.9,785.2 2063.7,788.6 2056.5,792.0 2049.2,795.4 2042.0,798.8 2034.7,802.3 2027.5,805.7 2020.2,809.2 2013.0,812.7 2005.8,816.2 1998.5,819.7 1991.3,823.2 1984.0,826.7 1976.8,830.3 1969.5,833.8 1962.3,837.4 1955.1,840.9 1947.8,844.5 1940.6,848.1 1933.3,851.7 1926.1,855.3 1918.8,858.9 1911.6,862.5" fill="#D3E4F1" fill-opacity="0.7" stroke="none"/>
<polyline points="1911.6,490.4 1926.1,460.9 1940.6,515.5 1955.1,477.0 1969.5,400.0 1984.0,477.0 1998.5,533.4 2013.0,333.7 2027.5,331.9 2042.0,423.2 2056.5,364.1 2070.9,364.1 2085.4,394.6 2099.9,242.4 2114.4,401.0 2128.9,475.2 2143.4,443.9 2157.9,485.0 2172.3,440.3 2186.8,482.4 2201.3,434.0 2215.8,482.0 2230.3,367.0 2244.8,329.1 2259.3,484.0 2273.8,318.0 2288.2,391.8 2302.7,424.9 2317.2,364.0 2331.7,372.4 2346.2,462.5 2360.7,327.3 2375.2,346.6 2389.6,252.6 2404.1,235.0 2418.6,451.7 2433.1,300.0 2447.6,193.0 2462.1,439.2 2476.6,207.0 2491.0,40.0 2505.5,285.0 2520.0,442.8 2534.5,272.0" stroke="#DA5D17" stroke-width="2.7"/>
<line x1="1911.6" y1="473.5" x2="2534.5" y2="287.8" stroke="#DA5D17" stroke-width="2.7"/>
<polygon points="1911.6,422.0 1918.8,420.7 1926.1,419.4 1933.3,418.2 1940.6,416.9 1947.8,415.6 1955.1,414.3 1962.3,413.0 1969.5,411.6 1976.8,410.3 1984.0,409.0 1991.3,407.6 1998.5,406.3 2005.8,404.9 2013.0,403.5 2020.2,402.1 2027.5,400.7 2034.7,399.3 2042.0,397.9 2049.2,396.4 2056.5,395.0 2063.7,393.5 2070.9,392.0 2078.2,390.5 2085.4,389.0 2092.7,387.4 2099.9,385.8 2107.2,384.2 2114.4,382.6 2121.6,381.0 2128.9,379.3 2136.1,377.6 2143.4,375.9 2150.6,374.1 2157.9,372.3 2165.1,370.5 2172.3,368.6 2179.6,366.7 2186.8,364.8 2194.1,362.8 2201.3,360.8 2208.6,358.7 2215.8,356.6 2223.1,354.5 2230.3,352.3 2237.5,350.1 2244.8,347.8 2252.0,345.5 2259.3,343.2 2266.5,340.8 2273.8,338.4 2281.0,335.9 2288.2,333.4 2295.5,330.9 2302.7,328.4 2310.0,325.8 2317.2,323.2 2324.5,320.5 2331.7,317.8 2338.9,315.1 2346.2,312.4 2353.4,309.7 2360.7,306.9 2367.9,304.1 2375.2,301.3 2382.4,298.5 2389.6,295.7 2396.9,292.8 2404.1,289.9 2411.4,287.0 2418.6,284.1 2425.9,281.2 2433.1,278.3 2440.3,275.3 2447.6,272.4 2454.8,269.4 2462.1,266.5 2469.3,263.5 2476.6,260.5 2483.8,257.5 2491.0,254.5 2498.3,251.5 2505.5,248.4 2512.8,245.4 2520.0,242.4 2527.3,239.3 2534.5,236.3 2534.5,339.3 2527.3,340.6 2520.0,341.9 2512.8,343.1 2505.5,344.4 2498.3,345.7 2491.0,347.0 2483.8,348.3 2476.6,349.7 2469.3,351.0 2462.1,352.3 2454.8,353.7 2447.6,355.0 2440.3,356.4 2433.1,357.8 2425.9,359.2 2418.6,360.6 2411.4,362.0 2404.1,363.4 2396.9,364.9 2389.6,366.3 2382.4,367.8 2375.2,369.3 2367.9,370.8 2360.7,372.3 2353.4,373.9 2346.2,375.5 2338.9,377.1 2331.7,378.7 2324.5,380.3 2317.2,382.0 2310.0,383.7 2302.7,385.4 2295.5,387.2 2288.2,389.0 2281.0,390.8 2273.8,392.7 2266.5,394.6 2259.3,396.5 2252.0,398.5 2244.8,400.5 2237.5,402.6 2230.3,404.7 2223.1,406.8 2215.8,409.0 2208.6,411.2 2201.3,413.5 2194.1,415.8 2186.8,418.1 2179.6,420.5 2172.3,422.9 2165.1,425.4 2157.9,427.9 2150.6,430.4 2143.4,432.9 2136.1,435.5 2128.9,438.1 2121.6,440.8 2114.4,443.5 2107.2,446.2 2099.9,448.9 2092.7,451.6 2085.4,454.4 2078.2,457.2 2070.9,460.0 2063.7,462.8 2056.5,465.6 2049.2,468.5 2042.0,471.4 2034.7,474.3 2027.5,477.2 2020.2,480.1 2013.0,483.0 2005.8,486.0 1998.5,488.9 1991.3,491.9 1984.0,494.8 1976.8,497.8 1969.5,500.8 1962.3,503.8 1955.1,506.8 1947.8,509.8 1940.6,512.9 1933.3,515.9 1926.1,518.9 1918.8,522.0 1911.6,525.0" fill="#FCDDBA" fill-opacity="0.7" stroke="none"/>
</g>
<path d="M1911.6 97.3H2534.5M1911.6 1122.5H2534.5" stroke="#1a1a1a" stroke-width="1.25" fill="none"/>
<path d="M1911.6 96.8V1123.0" stroke="#000" stroke-width="1.1" fill="none"/>
<path d="M2523.5 97.3H2534.5V1122.5H2523.5" stroke="#DA5D17" stroke-width="1.25" fill="none"/>
<g font-size="35.2" fill="#000">
<text x="1898.0" y="1135.5" text-anchor="end">2.5</text>
<text x="1898.0" y="1007.4" text-anchor="end">3</text>
<text x="1898.0" y="879.2" text-anchor="end">3.5</text>
<text x="1898.0" y="751.0" text-anchor="end">4</text>
<text x="1898.0" y="622.9" text-anchor="end">4.5</text>
<text x="1898.0" y="494.8" text-anchor="end">5</text>
<text x="1898.0" y="366.6" text-anchor="end">5.5</text>
<text x="1898.0" y="238.4" text-anchor="end">6</text>
<text x="1898.0" y="110.3" text-anchor="end">6.5</text>
<text x="1926.6" y="1168.6" text-anchor="middle">1980</text>
<text x="2071.4" y="1168.6" text-anchor="middle">1990</text>
<text x="2216.3" y="1168.6" text-anchor="middle">2000</text>
<text x="2361.2" y="1168.6" text-anchor="middle">2010</text>
<text x="2506.0" y="1168.6" text-anchor="middle">2020</text>
</g>
<g font-size="35.2" fill="#DA5D17">
<text x="2547.7" y="1135.5">10</text>
<text x="2547.7" y="1033.0">11</text>
<text x="2547.7" y="930.5">12</text>
<text x="2547.7" y="827.9">13</text>
<text x="2547.7" y="725.4">14</text>
<text x="2547.7" y="622.9">15</text>
<text x="2547.7" y="520.4">16</text>
<text x="2547.7" y="417.9">17</text>
<text x="2547.7" y="315.3">18</text>
<text x="2547.7" y="212.8">19</text>
<text x="2547.7" y="110.3">20</text>
</g>
<text font-size="38.8" x="2223.1" y="83.8" text-anchor="middle" fill="#000">c SH</text>
<text font-size="38.8" transform="translate(1835.6 611.9) rotate(-90)" text-anchor="middle" fill="#000">Wave Height (m)</text>
<text font-size="38.8" transform="translate(2627.7 611.9) rotate(-90)" text-anchor="middle" fill="#DA5D17">Wind Speed(m/s)</text>
</g>
</svg>
</body></html>
